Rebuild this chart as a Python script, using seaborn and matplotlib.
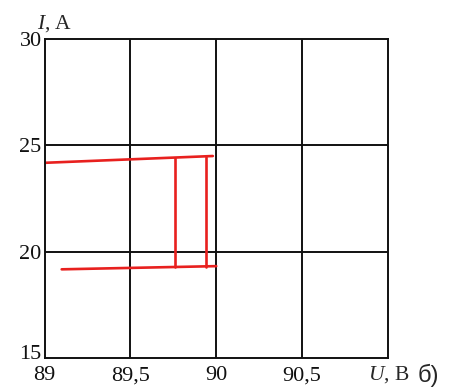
import matplotlib
matplotlib.use("Agg")
import matplotlib.pyplot as plt
import matplotlib.transforms as mtransforms
import seaborn as sns
import pandas as pd

# segments of the red trace: (U, I) end points
seg_ids = ["top", "top", "bottom", "bottom", "v1", "v1", "v2", "v2"]
u_vals = [89.0, 89.98, 89.10, 90.0, 89.76, 89.76, 89.94, 89.94]
i_vals = [24.18, 24.50, 19.17, 19.32, 24.39, 19.26, 24.47, 19.29]

x_ticks = [89, 89.5, 90, 90.5]
x_labels = ["89", "89,5", "90", "90,5"]
y_ticks = [15, 20, 25, 30]
y_labels = ["15", "20", "25", "30"]

df = pd.DataFrame({"seg": seg_ids, "U": u_vals, "I": i_vals})

sns.set_style("white")
plt.rcParams["font.family"] = ["Liberation Serif", "DejaVu Serif"]
plt.rcParams["mathtext.fontset"] = "custom"
plt.rcParams["mathtext.rm"] = "Liberation Serif"
plt.rcParams["mathtext.it"] = "Liberation Serif:italic"

fig = plt.figure(figsize=(4.51, 3.87), dpi=100)
ax = fig.add_axes([0.0987, 0.075, 0.7616, 0.824])

sns.lineplot(data=df, x="U", y="I", units="seg", estimator=None, sort=False,
             color="#e8201e", linewidth=1.9, ax=ax)

ax.set_xlim(89, 91)
ax.set_ylim(15, 30)
ax.set_xticks(x_ticks)
ax.set_xticklabels(x_labels)
ax.set_yticks(y_ticks)
ax.set_yticklabels(y_labels)
ax.tick_params(axis="x", length=0, labelsize=16, pad=6)
ax.tick_params(axis="y", length=0, labelsize=16, pad=2)
for t in ax.get_xticklabels() + ax.get_yticklabels():
    t.set_color("#111111")
# lift the bottom y label a little so it clears "89"
lab15 = ax.get_yticklabels()[0]
lab15.set_transform(lab15.get_transform() +
                    mtransforms.ScaledTranslation(0, 4 / 72, fig.dpi_scale_trans))
ax.set_xlabel("")
ax.set_ylabel("")

for x in [89.5, 90, 90.5]:
    ax.axvline(x, color="#111111", linewidth=1.4, zorder=0)
for y in [20, 25]:
    ax.axhline(y, color="#111111", linewidth=1.4, zorder=0)
for s in ax.spines.values():
    s.set_color("#111111")
    s.set_linewidth(1.4)

fig.text(0.815, 0.018, "$\\mathit{U}$, В", fontsize=15.5, ha="left", va="baseline")
fig.text(0.925, 0.012, "б)", fontsize=17, ha="left", va="baseline",
         family=["Liberation Sans", "DejaVu Sans"])
fig.text(0.082, 0.925, "$\\mathit{I}$, А", fontsize=15.5, ha="left", va="baseline")

fig.savefig("out.png", dpi=100)
